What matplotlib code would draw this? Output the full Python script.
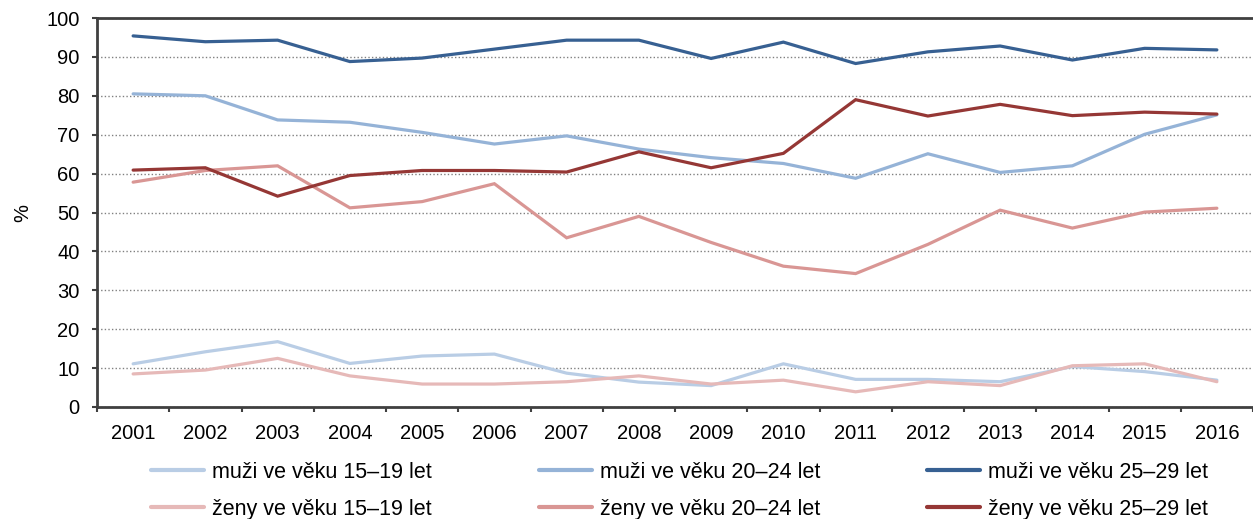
import numpy as np
import matplotlib
matplotlib.use("Agg")
import matplotlib.pyplot as plt

plt.rcParams['font.family'] = ['Liberation Sans', 'DejaVu Sans']

years = ['2001', '2002', '2003', '2004', '2005', '2006', '2007', '2008',
         '2009', '2010', '2011', '2012', '2013', '2014', '2015', '2016']

# podíl (%) podle pohlaví a věku
muzi_15_19 = [11.1, 14.2, 16.8, 11.2, 13.1, 13.6, 8.7, 6.4, 5.5, 11.1, 7.1, 7.1, 6.5, 10.4, 9.1, 6.9]
muzi_20_24 = [80.5, 80.0, 73.8, 73.2, 70.6, 67.6, 69.7, 66.3, 64.1, 62.6, 58.8, 65.1, 60.3, 62.0, 70.1, 75.1]
muzi_25_29 = [95.4, 93.9, 94.3, 88.8, 89.7, 92.0, 94.3, 94.3, 89.6, 93.8, 88.3, 91.3, 92.8, 89.2, 92.2, 91.8]
zeny_15_19 = [8.5, 9.5, 12.5, 8.0, 5.9, 5.9, 6.5, 8.0, 5.9, 6.9, 3.9, 6.5, 5.5, 10.6, 11.1, 6.5]
zeny_20_24 = [57.8, 60.8, 62.0, 51.2, 52.8, 57.4, 43.5, 49.0, 42.3, 36.2, 34.3, 41.8, 50.6, 46.0, 50.1, 51.1]
zeny_25_29 = [60.9, 61.5, 54.2, 59.5, 60.8, 60.8, 60.4, 65.6, 61.5, 65.2, 79.0, 74.8, 77.8, 74.9, 75.8, 75.3]

labels = ['muži ve věku 15–19 let', 'muži ve věku 20–24 let', 'muži ve věku 25–29 let',
          'ženy ve věku 15–19 let', 'ženy ve věku 20–24 let', 'ženy ve věku 25–29 let']
colors = ['#B9CDE5', '#95B3D7', '#376092', '#E6B9B8', '#D99694', '#953735']
series = [muzi_15_19, muzi_20_24, muzi_25_29, zeny_15_19, zeny_20_24, zeny_25_29]

W, H = 1253, 519
fig = plt.figure(figsize=(W / 100, H / 100), dpi=100)
ax = fig.add_axes([97 / W, 1 - 407 / H, 1 - 97 / W, (407 - 18) / H])

x = np.arange(len(years))
lines = []
for vals, lab, col in zip(series, labels, colors):
    ln, = ax.plot(x, vals, color=col, lw=2.3, solid_capstyle='round',
                  solid_joinstyle='miter', label=lab)
    lines.append(ln)

ax.set_xlim(-0.5, len(years) - 0.5)
ax.set_ylim(0, 100)
ax.set_yticks(np.arange(0, 101, 10))
ax.set_xticks(x)
ax.set_xticklabels(years)
ax.set_xticks(np.arange(-0.5, len(years) - 0.4, 1), minor=True)
ax.tick_params(axis='x', which='major', length=0, pad=12, labelsize=14.5)
ax.tick_params(axis='x', which='minor', length=3.5, width=1.5, color='#404040', direction='out')
ax.tick_params(axis='y', length=3.5, width=1.5, color='#404040', pad=9, labelsize=14.5)
ax.grid(axis='y', linestyle=(0, (1, 1.6)), color='#808080', lw=1)
ax.set_axisbelow(True)

for s in ['left', 'bottom', 'top']:
    ax.spines[s].set_color('#404040')
    ax.spines[s].set_linewidth(2)
ax.spines['right'].set_visible(False)

ax.set_ylabel('%', fontsize=14.5, labelpad=10)

# legenda: tři sloupce (muži nahoře, ženy dole)
col_x = [151, 539, 927]
for i, cx in enumerate(col_x):
    leg = fig.legend([lines[i], lines[i + 3]], [labels[i], labels[i + 3]],
                     loc='upper left', bbox_to_anchor=(cx / W, 1 - 462 / H),
                     frameon=False, fontsize=15.5, handlelength=2.45,
                     handletextpad=0.4, labelspacing=0.72, borderpad=0,
                     borderaxespad=0)
    for h in leg.legend_handles:
        h.set_linewidth(3)

fig.savefig('out.png', dpi=100)
